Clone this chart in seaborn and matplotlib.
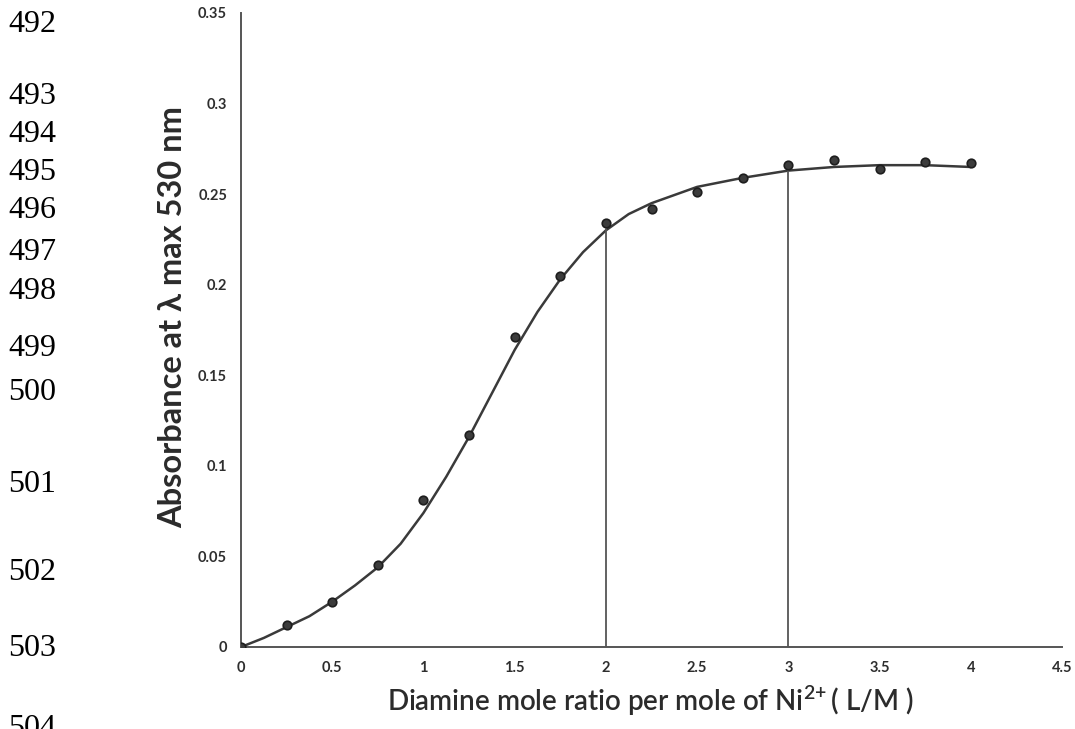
import numpy as np
import pandas as pd
import matplotlib
matplotlib.use("Agg")
import matplotlib.pyplot as plt
import seaborn as sns

# ----------------------------
# Data
# ----------------------------
ratio = [0, 0.25, 0.5, 0.75, 1.0, 1.25, 1.5, 1.75, 2.0, 2.25, 2.5,
         2.75, 3.0, 3.25, 3.5, 3.75, 4.0]
absorbance = [0.0, 0.012, 0.025, 0.045, 0.081, 0.117, 0.171, 0.205, 0.234,
              0.242, 0.251, 0.259, 0.266, 0.269, 0.264, 0.268, 0.267]

# fitted curve
curve_x = [0, 0.125, 0.25, 0.375, 0.5, 0.625, 0.75, 0.875, 1.0, 1.125, 1.25,
           1.375, 1.5, 1.625, 1.75, 1.875, 2.0, 2.125, 2.25, 2.5, 2.75, 3.0,
           3.25, 3.5, 3.75, 4.0]
curve_y = [0.0, 0.005, 0.011, 0.017, 0.025, 0.034, 0.044, 0.057, 0.074, 0.094,
           0.116, 0.140, 0.164, 0.185, 0.203, 0.218, 0.230, 0.239, 0.245,
           0.254, 0.259, 0.263, 0.265, 0.266, 0.266, 0.265]

# marked ratios (vertical drop lines)
mark_x = [2.0, 3.0]
mark_y = [0.231, 0.265]

x_ticks = [0, 0.5, 1, 1.5, 2, 2.5, 3, 3.5, 4, 4.5]
y_ticks = [0, 0.05, 0.1, 0.15, 0.2, 0.25, 0.3, 0.35]

# manuscript line numbers on the left margin
line_numbers = ["492", "493", "494", "495", "496", "497", "498", "499",
                "500", "501", "502", "503", "504"]
line_number_y = [24, 96, 134, 173, 211, 253, 291, 348, 393, 484, 573, 649, 728]

points = pd.DataFrame({"ratio": ratio, "absorbance": absorbance})
fit = pd.DataFrame({"ratio": curve_x, "absorbance": curve_y})

# ----------------------------
# Style
# ----------------------------
sns.set_theme(style="white")
plt.rcParams["font.family"] = ["Lato", "DejaVu Sans"]
plt.rcParams["mathtext.fontset"] = "custom"
plt.rcParams["mathtext.rm"] = "Lato"
plt.rcParams["mathtext.default"] = "regular"

fig = plt.figure(figsize=(10.75, 7.29), dpi=100)
ax = fig.add_axes([241 / 1075, 1 - 647 / 729, 821 / 1075, 634 / 729])

sns.lineplot(data=fit, x="ratio", y="absorbance", ax=ax, color="#3a3a3a",
             linewidth=1.8, sort=True)
sns.scatterplot(data=points, x="ratio", y="absorbance", ax=ax, s=38,
                color="#3c3c3c", edgecolor="#1e1e1e", linewidth=1.2, zorder=3)

for mx, my in zip(mark_x, mark_y):
    ax.plot([mx, mx], [0, my], color="#555555", linewidth=1.3)

ax.set_xlim(0, 4.5)
ax.set_ylim(0, 0.35)
ax.set_xticks(x_ticks)
ax.set_yticks(y_ticks)
ax.set_xticklabels([f"{t:g}" for t in x_ticks])
ax.set_yticklabels([f"{t:g}" for t in y_ticks])
ax.tick_params(axis="both", direction="out", length=4, width=1.3,
               color="#444444", labelsize=10.5, labelcolor="#2e2e2e", pad=6)
for lab in ax.get_xticklabels() + ax.get_yticklabels():
    lab.set_fontweight("bold")

sns.despine(ax=ax)
for side in ["left", "bottom"]:
    ax.spines[side].set_color("#555555")
    ax.spines[side].set_linewidth(1.4)

ax.set_xlabel("Diamine mole ratio per mole of Ni$^{2\\!+}$( L/M )",
              fontsize=20, color="#2b2b2b", fontweight="semibold")
ax.set_ylabel("Absorbance at λ max 530 nm", fontsize=23.5, color="#2b2b2b",
              fontweight="bold")
ax.xaxis.set_label_coords(0.498, -0.058)
ax.yaxis.set_label_coords(-0.066, 0.52)

for num, py in zip(line_numbers, line_number_y):
    fig.text(8 / 1075, 1 - py / 729, num, fontsize=23,
             family="Liberation Serif", color="black", va="center", ha="left")

fig.savefig("out.png", dpi=100)
